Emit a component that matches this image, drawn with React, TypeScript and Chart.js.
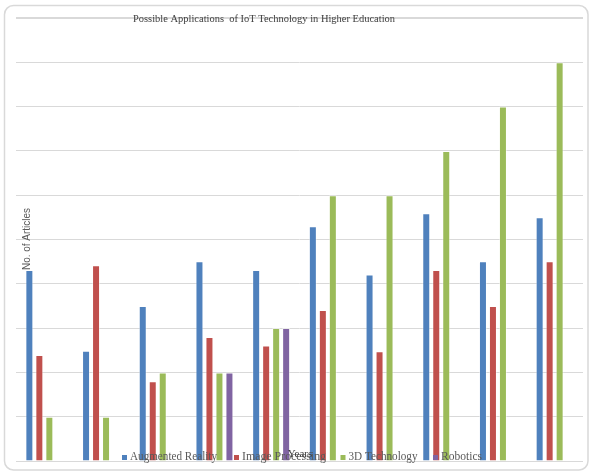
import React, { useEffect, useRef } from "react";
import { Chart, registerables } from "chart.js";

Chart.register(...registerables);

const chartTitle = "Possible Applications  of IoT Technology in Higher Education";
const yTitle = "No. of Articles";
const xTitle = "Years";

const groups = ["1", "2", "3", "4", "5", "6", "7", "8", "9", "10"];

const augmentedReality = [4.31, 2.49, 3.5, 4.51, 4.31, 5.3, 4.21, 5.59, 4.51, 5.5];
const imageProcessing = [2.39, 4.42, 1.8, 2.8, 2.61, 3.41, 2.48, 4.31, 3.5, 4.51];
const technology3D = [1, 1, 2, 2, 3, 6, 6, 7, 8, 9];
const robotics = [null, null, null, 2, 3, null, null, null, null, null];

const yMax = 10;

const seriesNames = ["Augmented Reality", "Image Processing", "3D Technology", "Robotics"];
const seriesColors = ["#4f81bd", "#c0504d", "#9bbb59", "#8064a2"];

// Title, axis titles, top grid line and legend are painted straight onto the canvas
const overlayText = {
  id: "overlayText",
  afterDraw(chart: Chart) {
    const { ctx, chartArea } = chart;
    const yScale = chart.scales.y;
    ctx.save();

    // grid line at the axis maximum
    const yTop = Math.round(yScale.getPixelForValue(yMax) - 1) + 0.5;
    ctx.strokeStyle = "#d9d9d9";
    ctx.lineWidth = 1;
    ctx.beginPath();
    ctx.moveTo(chartArea.left, yTop);
    ctx.lineTo(chartArea.right, yTop);
    ctx.stroke();

    // outer frame
    ctx.lineWidth = 1.5;
    ctx.beginPath();
    (ctx as any).roundRect(4.5, 5.5, 583.5, 464.5, 9);
    ctx.stroke();

    // chart title
    ctx.fillStyle = "#404040";
    ctx.font = "11px 'Liberation Serif', 'Times New Roman', serif";
    ctx.textAlign = "center";
    ctx.textBaseline = "alphabetic";
    ctx.fillText(chartTitle, 264, 22, 262);

    // y-axis title
    ctx.save();
    ctx.translate(chartArea.left + 11, 239);
    ctx.rotate(-Math.PI / 2);
    ctx.fillStyle = "#595959";
    ctx.font = "10px 'Liberation Sans', Arial, sans-serif";
    ctx.textAlign = "center";
    ctx.textBaseline = "middle";
    ctx.fillText(yTitle, 0, 0, 62);
    ctx.restore();

    // legend
    const legendX = [122, 234, 340.5, 433];
    const legendW = [87, 84, 69, 41];
    ctx.font = "12px 'Liberation Serif', 'Times New Roman', serif";
    ctx.textAlign = "left";
    ctx.textBaseline = "alphabetic";
    seriesNames.forEach((name, i) => {
      ctx.fillStyle = seriesColors[i];
      ctx.fillRect(legendX[i], 455, 5, 5);
      ctx.fillStyle = "#595959";
      ctx.fillText(name, legendX[i] + 8, 460, legendW[i]);
    });

    // x-axis title
    ctx.fillStyle = "#404040";
    ctx.font = "11px 'Liberation Serif', 'Times New Roman', serif";
    ctx.textAlign = "center";
    ctx.fillText(xTitle, 300, 457, 27);

    ctx.restore();
  },
};

export default function App() {
  const canvasRef = useRef<HTMLCanvasElement | null>(null);

  useEffect(() => {
    if (!canvasRef.current) return;
    const seriesData = [augmentedReality, imageProcessing, technology3D, robotics];
    const chart = new Chart(canvasRef.current, {
      type: "bar",
      data: {
        labels: groups,
        datasets: seriesNames.map((name, i) => ({
          label: name,
          data: seriesData[i] as any,
          backgroundColor: seriesColors[i],
          borderColor: "rgba(255,255,255,0.45)",
          borderWidth: 1,
          categoryPercentage: 0.705,
          barPercentage: 0.8,
        })),
      },
      options: {
        animation: false,
        responsive: true,
        maintainAspectRatio: false,
        layout: { padding: { left: 16, right: 9, top: 18, bottom: 11 } },
        plugins: {
          legend: { display: false },
          title: { display: false },
          tooltip: { enabled: false },
        },
        scales: {
          x: { display: false },
          y: {
            min: 0,
            max: yMax,
            ticks: { display: false, stepSize: 1 },
            grid: { color: "#d9d9d9", lineWidth: 1, drawTicks: false },
            border: { display: false },
          },
        },
      },
      plugins: [overlayText],
    });
    return () => chart.destroy();
  }, []);

  return (
    <div
      style={{
        position: "fixed",
        left: 0,
        top: 0,
        width: 592,
        height: 472,
        background: "#ffffff",
      }}
    >
      <canvas ref={canvasRef} />
    </div>
  );
}
